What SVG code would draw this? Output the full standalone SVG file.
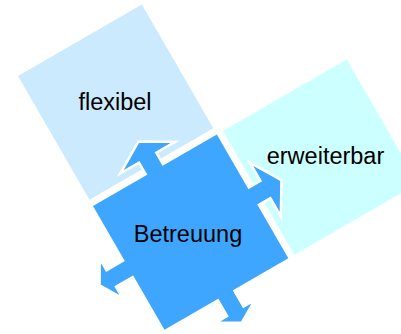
<svg xmlns="http://www.w3.org/2000/svg" width="401" height="334" viewBox="0 0 401 334">
  <style>
    .lbl { font-family: "Liberation Sans", Arial, sans-serif; font-size: 23.5px; fill: #000000; text-anchor: middle; }
    .arrow { fill: #3EA6FF; stroke: #FFFFFF; stroke-width: 2.5; stroke-linejoin: miter; }
  </style>
  <rect width="401" height="334" fill="#FFFFFF"/>
  <g id="node-flexibel">
    <rect transform="translate(18,76) rotate(-30)" x="0" y="0" width="143" height="143" fill="#CCEAFE"/>
    <text class="lbl" x="115" y="110">flexibel</text>
  </g>
  <g id="node-erweiterbar">
    <rect transform="translate(18,76) rotate(-30)" x="150" y="150" width="143" height="143" fill="#CCFFFF"/>
    <text class="lbl" x="325.5" y="163.5">erweiterbar</text>
  </g>
  <g id="connectors" transform="translate(18,76) rotate(-30)">
    <polygon class="arrow" points="61.5,160 61.5,135.5 40,135.5 71.5,117 103,135.5 81.5,135.5 81.5,160"/>
    <polygon class="arrow" points="133,212 157.5,212 157.5,191 176,222 157.5,253 157.5,232 133,232"/>
    <polygon class="arrow" points="61,283 61,312.5 48,312.5 70.5,325.5 93,312.5 80,312.5 80,283"/>
    <polygon class="arrow" points="10,212.5 -20.5,212.5 -20.5,199 -34,222 -20.5,245 -20.5,231.5 10,231.5"/>
  </g>
  <g id="node-betreuung">
    <rect transform="translate(18,76) rotate(-30)" x="0" y="150" width="143" height="143" fill="#3EA6FF"/>
    <text class="lbl" x="188" y="241.5">Betreuung</text>
  </g>
</svg>
